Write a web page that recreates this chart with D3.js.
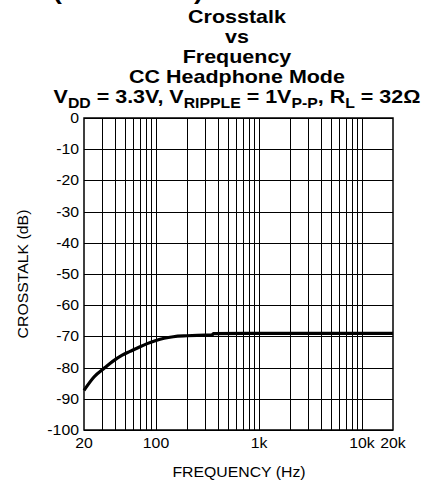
<!DOCTYPE html>
<html>
<head>
<meta charset="utf-8">
<script src="https://cdn.jsdelivr.net/npm/d3@7"></script>
<style>
  body { margin: 0; background: #fff; }
  svg { display: block; font-family: "Liberation Sans", Arial, sans-serif; }
</style>
</head>
<body>
<svg id="chart" width="423" height="483"></svg>
<script>
var freq   = [20, 25, 32, 38, 47, 56, 70, 81, 100, 120, 147, 200, 300, 350, 360, 1000, 5000, 20000];
var xtalk  = [-87.3, -83.0, -80.0, -78.0, -76.0, -74.8, -73.3, -72.4, -71.3, -70.6, -70.1, -69.8, -69.6, -69.6, -69.1, -69.0, -69.0, -69.0];

var xTickValues = [20, 100, 1000, 10000, 20000];
var xTickLabels = ["20", "100", "1k", "10k", "20k"];
var yTickValues = [0, -10, -20, -30, -40, -50, -60, -70, -80, -90, -100];
var xGrid = [30, 40, 50, 60, 70, 80, 90, 100, 200, 300, 400, 500, 600, 700, 800, 900, 1000,
             2000, 3000, 4000, 5000, 6000, 7000, 8000, 9000, 10000];
var titleLines = ["Crosstalk", "vs", "Frequency", "CC Headphone Mode"];

var svg = d3.select("svg#chart"),
    margin = {left: 84, top: 118, right: 30, bottom: 53},
    width = +svg.attr("width"),
    height = +svg.attr("height");

var x = d3.scaleLog().domain([20, 20000]).range([margin.left, width - margin.right]);
var y = d3.scaleLinear().domain([-100, 0]).range([height - margin.bottom, margin.top]);

var stretch = 1.13;

// text placed at (px,py) and widened a little, like the scanned original
function wideText(parent, px, py, size, anchor) {
  return parent.append("text")
      .attr("transform", "translate(" + px + "," + py + ") scale(" + stretch + ",1)")
      .attr("text-anchor", anchor || "middle")
      .attr("font-size", size);
}

// cut-off heading left over from the page above
svg.append("text")
    .attr("x", 53).attr("y", -1)
    .attr("font-size", 22).attr("font-weight", "bold")
    .attr("textLength", 150).attr("lengthAdjust", "spacingAndGlyphs")
    .text("(Continued)");

// title
titleLines.forEach(function(t, i) {
  wideText(svg, 237, 23 + i * 20, 19).attr("font-weight", "bold").text(t);
});

var sub = wideText(svg, 237, 103, 19).attr("font-weight", "bold");
var parts = [["V", 0], ["DD", 1], [" = 3.3V, V", 0], ["RIPPLE", 1], [" = 1V", 0],
             ["P-P", 1], [", R", 0], ["L", 1], [" = 32\u03A9", 0]];
parts.forEach(function(p, i) {
  var s = sub.append("tspan").text(p[0]);
  if (p[1]) s.attr("font-size", 14).attr("dy", 5);
  else if (i > 0) s.attr("dy", -5);
});

// grid
var grid = svg.append("g").attr("stroke", "#000").attr("stroke-width", 1);
grid.selectAll(".vx")
  .data(xGrid)
  .enter().append("line")
    .attr("x1", function(d) { return Math.round(x(d)) + 0.5; })
    .attr("x2", function(d) { return Math.round(x(d)) + 0.5; })
    .attr("y1", y(0)).attr("y2", y(-100));
grid.selectAll(".hy")
  .data(yTickValues)
  .enter().append("line")
    .attr("x1", x(20)).attr("x2", x(20000))
    .attr("y1", function(d) { return Math.round(y(d)) + 0.5; })
    .attr("y2", function(d) { return Math.round(y(d)) + 0.5; });

svg.append("rect")
    .attr("x", x(20)).attr("y", y(0))
    .attr("width", x(20000) - x(20)).attr("height", y(-100) - y(0))
    .attr("fill", "none").attr("stroke", "#000").attr("stroke-width", 1.5);

// curve
var line = d3.line()
    .x(function(d, i) { return x(freq[i]); })
    .y(function(d) { return y(d); })
    .curve(d3.curveMonotoneX);

svg.append("path")
    .datum(xtalk)
    .attr("fill", "none")
    .attr("stroke", "#000")
    .attr("stroke-width", 3.2)
    .attr("d", line);

// tick labels
yTickValues.forEach(function(v) {
  wideText(svg, x(20) - 5, y(v) + 5, 14, "end").text(String(v));
});
xTickValues.forEach(function(v, i) {
  wideText(svg, x(v), y(-100) + 18, 14).text(xTickLabels[i]);
});

wideText(svg, 239, 477, 14).text("FREQUENCY (Hz)");

svg.append("text")
    .attr("transform", "translate(28,274) rotate(-90) scale(" + stretch + ",1)")
    .attr("text-anchor", "middle")
    .attr("font-size", 14)
    .text("CROSSTALK (dB)");
</script>
</body>
</html>
